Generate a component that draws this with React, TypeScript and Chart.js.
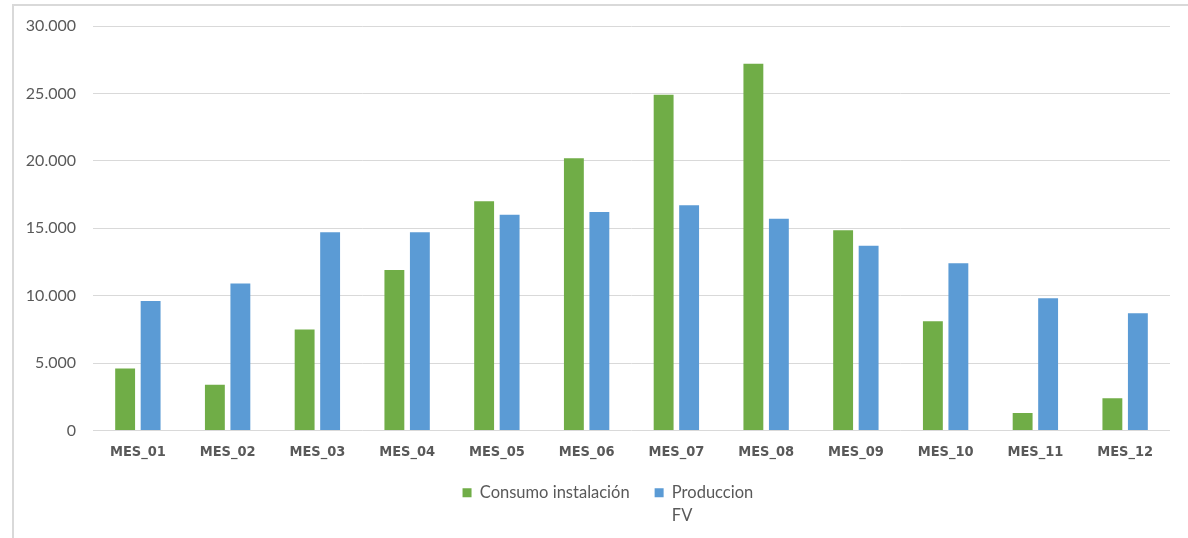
import React, { useEffect, useRef } from 'react';
import { Chart, registerables } from 'chart.js';

Chart.register(...registerables);

const categories = ['MES_01', 'MES_02', 'MES_03', 'MES_04', 'MES_05', 'MES_06', 'MES_07', 'MES_08', 'MES_09', 'MES_10', 'MES_11', 'MES_12'];
const consumoInstalacion = [4600, 3400, 7500, 11900, 17000, 20200, 24900, 27200, 14850, 8100, 1300, 2400];
const produccionFV = [9600, 10900, 14700, 14700, 16000, 16200, 16700, 15700, 13700, 12400, 9800, 8700];
const consumoLabel = 'Consumo instalación';
const produccionLabel = ['Produccion', 'FV'];
const yMin = 0;
const yMax = 30000;
const yStep = 5000;

const formatThousands = (v: number) => String(v).replace(/\B(?=(\d{3})+(?!\d))/g, '.');

const legendHeightPlugin = {
  id: 'legendHeight',
  beforeLayout(chart: any) {
    const lg: any = chart.legend;
    if (lg && !lg.__patched) {
      const orig = lg.fit;
      lg.fit = function () {
        orig.call(this);
        this.height += 30;
      };
      lg.__patched = true;
    }
  },
};

export default function App() {
  const canvasRef = useRef<HTMLCanvasElement | null>(null);

  useEffect(() => {
    if (!canvasRef.current) return;
    const chart = new Chart(canvasRef.current, {
      type: 'bar',
      data: {
        labels: categories,
        datasets: [
          {
            label: consumoLabel as any,
            data: consumoInstalacion,
            backgroundColor: '#70AD47',
            borderWidth: 0,
            categoryPercentage: 0.568,
            barPercentage: 0.78,
            yAxisID: 'y',
          },
          {
            label: produccionLabel as any,
            data: produccionFV,
            backgroundColor: '#5B9BD5',
            borderWidth: 0,
            categoryPercentage: 0.568,
            barPercentage: 0.78,
            yAxisID: 'y',
          },
        ],
      },
      plugins: [legendHeightPlugin],
      options: {
        responsive: false,
        animation: false,
        devicePixelRatio: 1,
        layout: { padding: { top: 20, right: 0, bottom: 25, left: 0 } },
        plugins: {
          tooltip: { enabled: false },
          title: { display: false },
          legend: {
            position: 'bottom',
            labels: {
              boxWidth: 9,
              boxHeight: 9,
              padding: 25,
              color: '#595959',
              font: { family: 'Lato, "Open Sans", sans-serif', size: 16.5, lineHeight: 1.4 },
            },
          },
        },
        scales: {
          x: {
            grid: { display: false, drawTicks: false },
            border: { display: false },
            ticks: {
              padding: 14,
              color: '#595959',
              font: { family: '"DejaVu Sans Condensed", "DejaVu Sans", sans-serif', size: 14.5, weight: 'bold', lineHeight: 1.0 },
            },
            afterFit: (scale: any) => { scale.height = 29; },
          },
          y: {
            position: 'left',
            min: yMin,
            max: yMax,
            grid: { color: '#d9d9d9', lineWidth: 1, drawTicks: false },
            border: { display: false },
            ticks: {
              stepSize: yStep,
              padding: 17,
              color: '#595959',
              font: { family: 'Lato, "Open Sans", sans-serif', size: 16 },
              callback: (v: any) => formatThousands(Number(v)),
            },
            afterFit: (scale: any) => {
              scale.width = 79;
              scale.paddingTop = 0;
              scale.paddingBottom = 0;
            },
          },
          yRight: {
            type: 'linear',
            position: 'right',
            display: true,
            grid: { display: false, drawTicks: false },
            border: { display: false },
            ticks: { display: false },
            afterFit: (scale: any) => { scale.width = 56; },
          },
        },
      },
    });
    return () => chart.destroy();
  }, []);

  return (
    <div style={{ position: 'fixed', left: 0, top: 0, width: 1188, height: 538, overflow: 'hidden', background: '#ffffff' }}>
      <div style={{ position: 'absolute', left: 12, top: 4, width: 1300, height: 700, border: '2px solid #d9d9d9', boxSizing: 'border-box' }} />
      <canvas ref={canvasRef} width={1212} height={560} style={{ position: 'absolute', left: 14, top: 6, width: 1212, height: 560 }} />
    </div>
  );
}
